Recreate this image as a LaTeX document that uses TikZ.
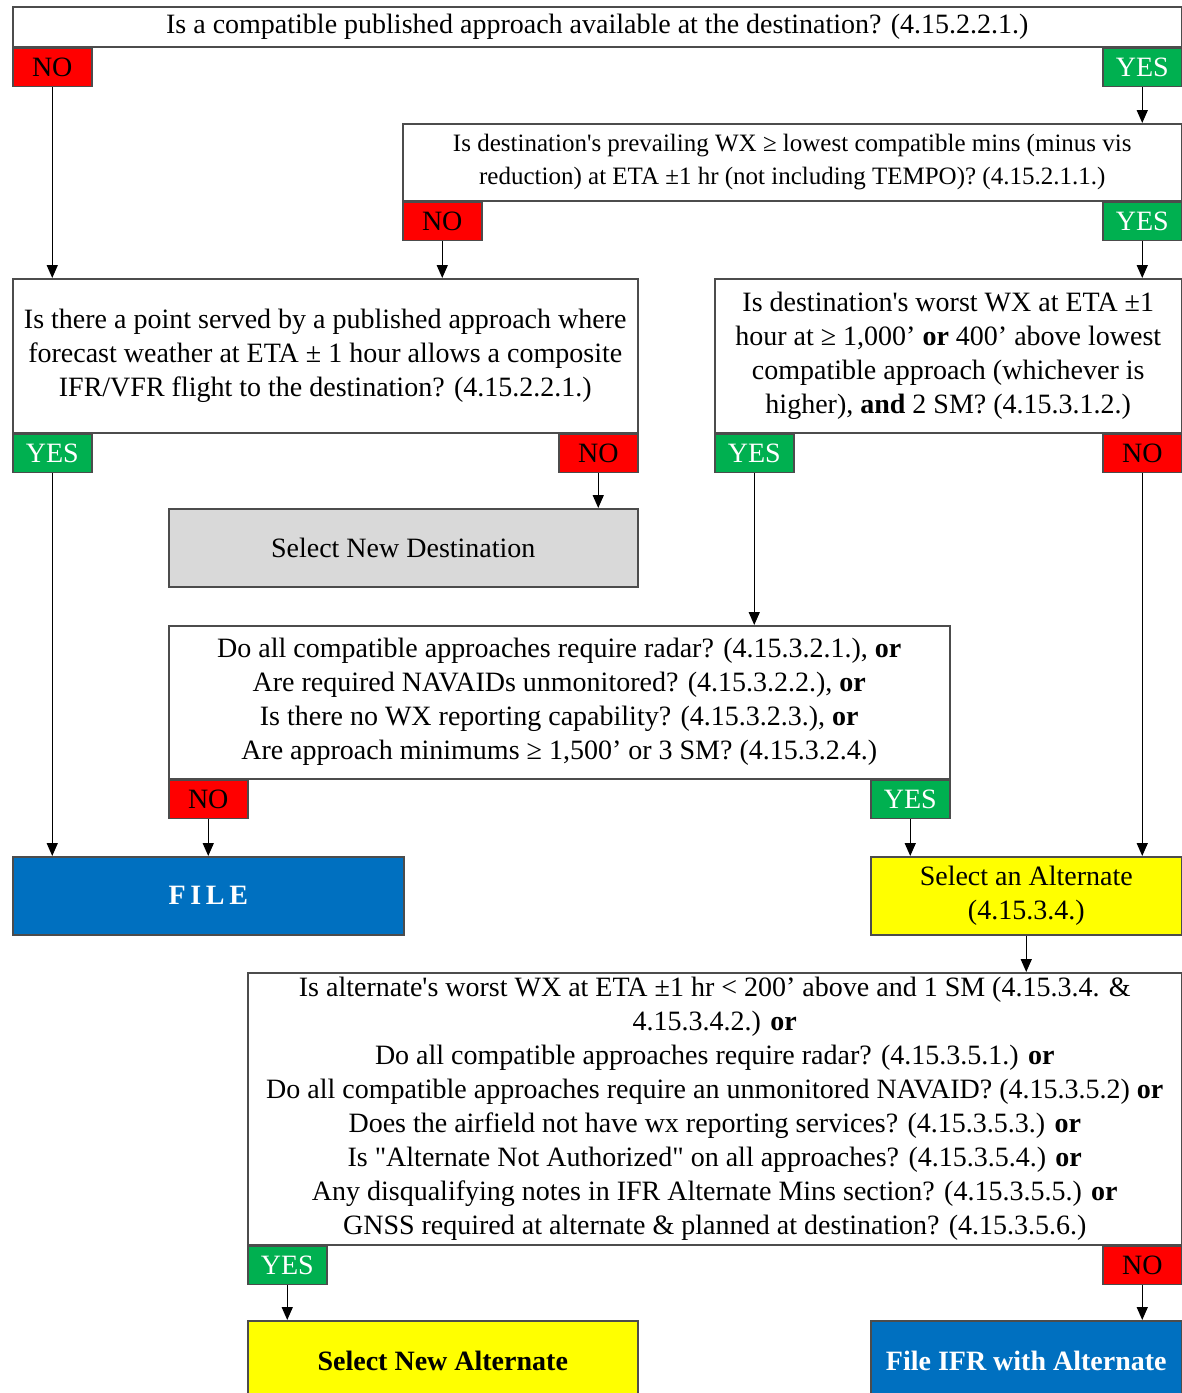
\documentclass[tikz,border=0pt]{standalone}
\usepackage{fontspec}
\setmainfont{Liberation Serif}[Ligatures=TeXOff]
\usetikzlibrary{arrows.meta}

\definecolor{yesgreen}{RGB}{0,176,80}
\definecolor{nored}{RGB}{255,0,0}
\definecolor{fileblue}{RGB}{0,112,192}
\definecolor{altyellow}{RGB}{255,255,0}
\definecolor{destgray}{RGB}{217,217,217}

\newcommand{\chartfont}{\fontsize{28}{34}\selectfont}
\newcommand{\narrowfont}{\fontsize{25}{33}\selectfont}

\tikzset{
  qbox/.style={draw=black!70, line width=1.5pt, fill=white, align=center,
    anchor=north west, inner sep=0pt, font=\chartfont},
  yesbox/.style={draw=black!70, line width=1.5pt, fill=yesgreen, text=white,
    minimum width=79pt, minimum height=38pt, inner sep=0pt, font=\chartfont},
  nobox/.style={yesbox, fill=nored, text=black},
  flow/.style={line width=1.5pt, -{Triangle[length=13pt,width=11pt]}},
}

\begin{document}
\begin{tikzpicture}[x=1pt,y=1pt,yscale=-1]
\useasboundingbox (0,0) rectangle (1182,1393);

%Question: published approach
\node [qbox, minimum width=1169pt, minimum height=40pt] (q1) at (12,6)
  {Is a compatible published approach available at the destination? (4.15.2.2.1.)};
\node [nobox, anchor=north west] (no1) at (q1.south west) {NO};
\node [yesbox, anchor=north east] (yes1) at (q1.south east) {YES};

%Question: prevailing WX
\node [qbox, font=\narrowfont, minimum width=779pt, minimum height=77pt] (q2) at (402,123)
  {Is destination's prevailing WX ≥ lowest compatible mins (minus vis\\
   reduction) at ETA ±1 hr (not including TEMPO)? (4.15.2.1.1.)};
\node [nobox, anchor=north west] (no2) at (q2.south west) {NO};
\node [yesbox, anchor=north east] (yes2) at (q2.south east) {YES};

%Question: composite IFR/VFR
\node [qbox, minimum width=625pt, minimum height=154pt] (q3) at (12,278)
  {Is there a point served by a published approach where\\
   forecast weather at ETA ± 1 hour allows a composite\\
   IFR/VFR flight to the destination? (4.15.2.2.1.)};
\node [yesbox, anchor=north west] (yes3) at (q3.south west) {YES};
\node [nobox, anchor=north east] (no3) at (q3.south east) {NO};

%Question: worst WX at destination
\node [qbox, minimum width=467pt, minimum height=154pt] (q4) at (714,278)
  {Is destination's worst WX at ETA ±1\\
   hour at ≥ 1,000’ \textbf{or} 400’ above lowest\\
   compatible approach (whichever is\\
   higher), \textbf{and} 2 SM? (4.15.3.1.2.)};
\node [yesbox, anchor=north west] (yes4) at (q4.south west) {YES};
\node [nobox, anchor=north east] (no4) at (q4.south east) {NO};

%Terminal: new destination
\node [qbox, fill=destgray, minimum width=469pt, minimum height=78pt] (newdest) at (168,508)
  {Select New Destination};

%Question: radar / NAVAIDs
\node [qbox, minimum width=781pt, minimum height=153pt] (q5) at (168,625)
  {Do all compatible approaches require radar? (4.15.3.2.1.), \textbf{or}\\
   Are required NAVAIDs unmonitored? (4.15.3.2.2.), \textbf{or}\\
   Is there no WX reporting capability? (4.15.3.2.3.), \textbf{or}\\
   Are approach minimums ≥ 1,500’ or 3 SM? (4.15.3.2.4.)};
\node [nobox, anchor=north west] (no5) at (q5.south west) {NO};
\node [yesbox, anchor=north east] (yes5) at (q5.south east) {YES};

%Terminals: file / alternate
\node [qbox, fill=fileblue, text=white, font=\chartfont\bfseries,
  minimum width=391pt, minimum height=78pt] (file) at (12,856) {F\,I\,L\,E};
\node [qbox, fill=altyellow, minimum width=311pt, minimum height=78pt] (selalt) at (870,856)
  {Select an Alternate\\(4.15.3.4.)};

%Question: alternate suitability
\node [qbox, minimum width=934pt, minimum height=272pt] (q6) at (247,972)
  {Is alternate's worst WX at ETA ±1 hr < 200’ above and 1 SM (4.15.3.4. \&\\
   4.15.3.4.2.) \textbf{or}\\
   Do all compatible approaches require radar? (4.15.3.5.1.) \textbf{or}\\
   Do all compatible approaches require an unmonitored NAVAID? (4.15.3.5.2) \textbf{or}\\
   Does the airfield not have wx reporting services? (4.15.3.5.3.) \textbf{or}\\
   Is "Alternate Not Authorized" on all approaches? (4.15.3.5.4.) \textbf{or}\\
   Any disqualifying notes in IFR Alternate Mins section? (4.15.3.5.5.) \textbf{or}\\
   GNSS required at alternate \& planned at destination? (4.15.3.5.6.)};
\node [yesbox, anchor=north west] (yes6) at (q6.south west) {YES};
\node [nobox, anchor=north east] (no6) at (q6.south east) {NO};

%Terminals: bottom row
\node [qbox, fill=altyellow, font=\chartfont\bfseries, minimum width=390pt, minimum height=80pt] (selnewalt) at (247,1320)
  {Select New Alternate};
\node [qbox, fill=fileblue, text=white, font=\chartfont\bfseries, minimum width=311pt, minimum height=80pt] (fileifr) at (870,1320)
  {File IFR with Alternate};

%Connectors
\draw [flow] (no1.south) -- (no1.south |- q3.north);
\draw [flow] (yes1.south) -- (yes1.south |- q2.north);
\draw [flow] (no2.south) -- (no2.south |- q3.north);
\draw [flow] (yes2.south) -- (yes2.south |- q4.north);
\draw [flow] (no3.south) -- (no3.south |- newdest.north);
\draw [flow] (yes3.south) -- (yes3.south |- file.north);
\draw [flow] (yes4.south) -- (yes4.south |- q5.north);
\draw [flow] (no4.south) -- (no4.south |- selalt.north);
\draw [flow] (no5.south) -- (no5.south |- file.north);
\draw [flow] (yes5.south) -- (yes5.south |- selalt.north);
\draw [flow] (selalt.south) -- (selalt.south |- q6.north);
\draw [flow] (yes6.south) -- (yes6.south |- selnewalt.north);
\draw [flow] (no6.south) -- (no6.south |- fileifr.north);

\end{tikzpicture}
\end{document}
